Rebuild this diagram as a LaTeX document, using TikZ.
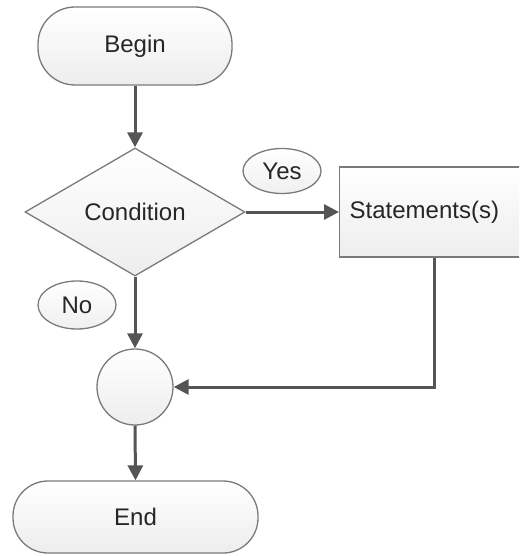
\documentclass[tikz,border=0pt]{standalone}
\usepackage{fontspec}
\setmainfont{Liberation Sans}
\usetikzlibrary{shapes.geometric,arrows.meta}
\definecolor{edgegray}{HTML}{7A7A7A}
\definecolor{flowgray}{HTML}{555555}
\definecolor{inkgray}{HTML}{262626}
\tikzset{
  shapebase/.style={draw=edgegray, line width=1.3pt, top color=white, bottom color=black!7,
    text=inkgray, font=\fontsize{24}{27}\selectfont, inner sep=0pt},
  terminal/.style={shapebase, rectangle, rounded corners=37pt},
  decision/.style={shapebase, diamond, minimum width=220pt, minimum height=128pt},
  process/.style={shapebase, rectangle, minimum width=200pt, minimum height=90pt},
  junction/.style={shapebase, circle, minimum size=76pt},
  tag/.style={shapebase, ellipse, minimum width=78pt, minimum height=45pt, bottom color=black!6},
  flow/.style={draw=flowgray, line width=3pt, -{Triangle[length=15pt,width=15pt]}}
}
\begin{document}
\begin{tikzpicture}[x=1pt, y=-1pt]
  \useasboundingbox (0,0) rectangle (519,556);
  \clip (0,0) rectangle (519,556);
  % flowchart shapes
  \node[terminal, minimum width=194pt, minimum height=78pt] (begin) at (135,46) {Begin};
  \node[decision] (cond) at (135,212) {Condition};
  \node[process, anchor=west] (stmt) at (339,212) {\hspace*{10pt}Statements(s)\hspace*{110pt}};
  \node[junction] (join) at (135,387) {};
  \node[terminal, minimum width=245pt, minimum height=72pt, rounded corners=35pt] (end) at (135.5,517) {End};
  % branch labels
  \node[tag] (yes) at (282,171) {Yes};
  \node[tag, minimum height=48pt] (no) at (77,305) {No};
  % connectors
  \draw[flow] (begin.south) -- (cond.north);
  \draw[flow] (cond.east) -- (stmt.west);
  \draw[flow] (cond.south) -- (join.north);
  \coordinate (turn) at (434,387);
  \draw[flow] (stmt.south -| turn) -- (turn) -- (join.east);
  \draw[flow] (join.south) -- (end.north);
\end{tikzpicture}
\end{document}
